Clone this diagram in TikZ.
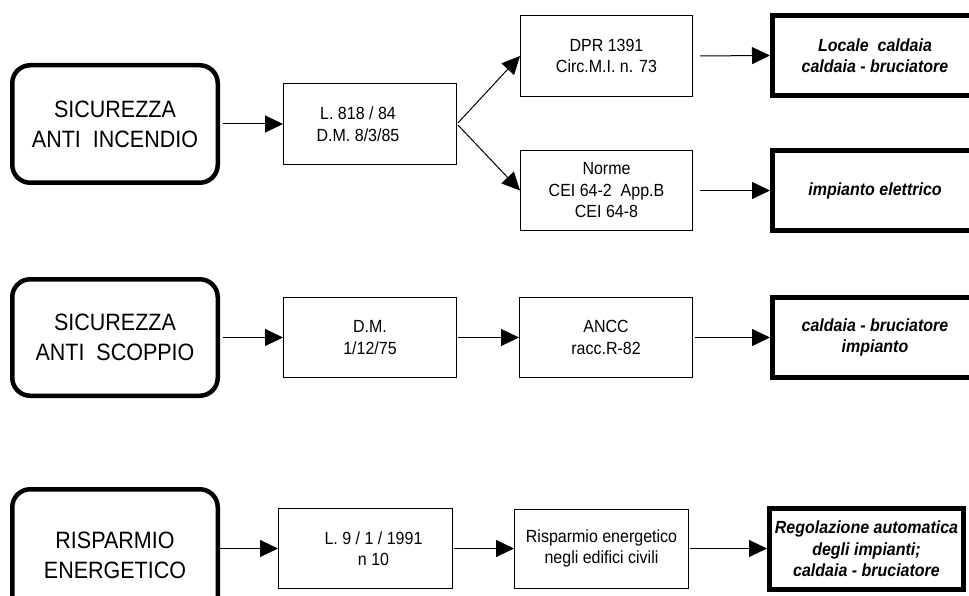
\documentclass[tikz,border=0pt]{standalone}
\usepackage{fontspec}
\usepackage{graphicx}
\setmainfont{Liberation Sans}
\usetikzlibrary{arrows.meta}
\newcommand{\vst}[1]{\scalebox{1}[1.1]{#1}}
\tikzset{
  catbox/.style={draw, line width=4.5pt, rounded corners=18pt, align=center,
    font=\fontsize{21.5}{30}\selectfont, inner sep=0pt},
  normbox/.style={draw, line width=1pt, align=center,
    font=\fontsize{16}{21.5}\selectfont, inner sep=0pt},
  resbox/.style={draw, line width=5pt, align=center,
    font=\fontsize{16}{21.5}\selectfont\bfseries\itshape, inner sep=0pt},
  conn/.style={line width=1pt, -{Triangle[length=18pt,width=17pt]}},
}
\begin{document}
\begin{tikzpicture}[x=1pt,y=-1pt]
\path[clip] (0,0) rectangle (969,596);
\fill[white] (0,0) rectangle (969,596);
% row 1
\node[catbox, minimum width=205.5pt, minimum height=117.5pt] (A) at (115,124) {\vst{SICUREZZA}\\\vst{ANTI\ \ INCENDIO}};
\node[normbox, minimum width=173pt, minimum height=81pt] (B) at (370,124) {\vst{L. 818 / 84}\hspace*{24pt}\\\vst{D.M. 8/3/85}\hspace*{24pt}};
\node[normbox, minimum width=172pt, minimum height=81pt] (C) at (606.5,56) {\vst{DPR 1391}\\\vst{Circ.M.I. n. 73}};
\node[normbox, minimum width=172pt, minimum height=80pt] (D) at (606.5,190.5) {\vst{Norme}\\\vst{CEI 64-2\ \ App.B}\\\vst{CEI 64-8}};
\node[resbox, minimum width=205pt, minimum height=80pt] (E) at (875,55.5) {\vst{Locale\ \ caldaia}\\\vst{caldaia - bruciatore}};
\node[resbox, minimum width=205pt, minimum height=80pt] (F) at (875,190.5) {\vst{impianto elettrico}};
% row 2
\node[catbox, minimum width=205.5pt, minimum height=116.5pt] (G) at (115,337.5) {\vst{SICUREZZA}\\\vst{ANTI\ \ SCOPPIO}};
\node[normbox, minimum width=173pt, minimum height=80pt] (H) at (370,337.5) {\vst{D.M.}\\\vst{1/12/75}};
\node[normbox, minimum width=173pt, minimum height=80pt] (I) at (606,337.5) {\vst{ANCC}\\\vst{racc.R-82}};
\node[resbox, minimum width=205pt, minimum height=80pt] (J) at (875,337.5) {\vst{caldaia - bruciatore}\\\vst{impianto}};
% row 3
\node[catbox, minimum width=205.5pt, minimum height=131.5pt] (K) at (115,555) {\vst{RISPARMIO}\\\vst{ENERGETICO}};
\node[normbox, minimum width=174pt, minimum height=80pt] (L) at (365.5,548.5) {\hspace*{16pt}\vst{L. 9 / 1 / 1991}\\\hspace*{16pt}\vst{n 10}};
\node[normbox, minimum width=174pt, minimum height=79pt] (M) at (601.5,548.5) {\vst{Risparmio energetico}\\\vst{negli edifici civili}};
\node[resbox, minimum width=194pt, minimum height=81pt] (N) at (866.5,549) {\vst{Regolazione automatica}\\\vst{degli impianti;}\\\vst{caldaia - bruciatore}};
% connectors
\draw[conn, shorten <=3pt] (A.east) -- (B.west);
\draw[conn, shorten <=1.5pt] (B.east) -- (C.west);
\draw[conn, shorten <=1.5pt] (B.east) -- (D.west);
\draw[conn, shorten <=7pt] (C.east) -- (E.west);
\draw[conn, shorten <=7pt] (D.east) -- (F.west);
\draw[conn, shorten <=3pt] (G.east) -- (H.west);
\draw[conn, shorten <=1pt] (H.east) -- (I.west);
\draw[conn, shorten <=2pt] (I.east) -- (J.west);
\draw[conn] (K.east |- L.west) -- (L.west);
\draw[conn, shorten <=1pt] (L.east) -- (L.east -| M.west);
\draw[conn, shorten <=1pt] (M.east) -- (M.east -| N.west);
\end{tikzpicture}
\end{document}
